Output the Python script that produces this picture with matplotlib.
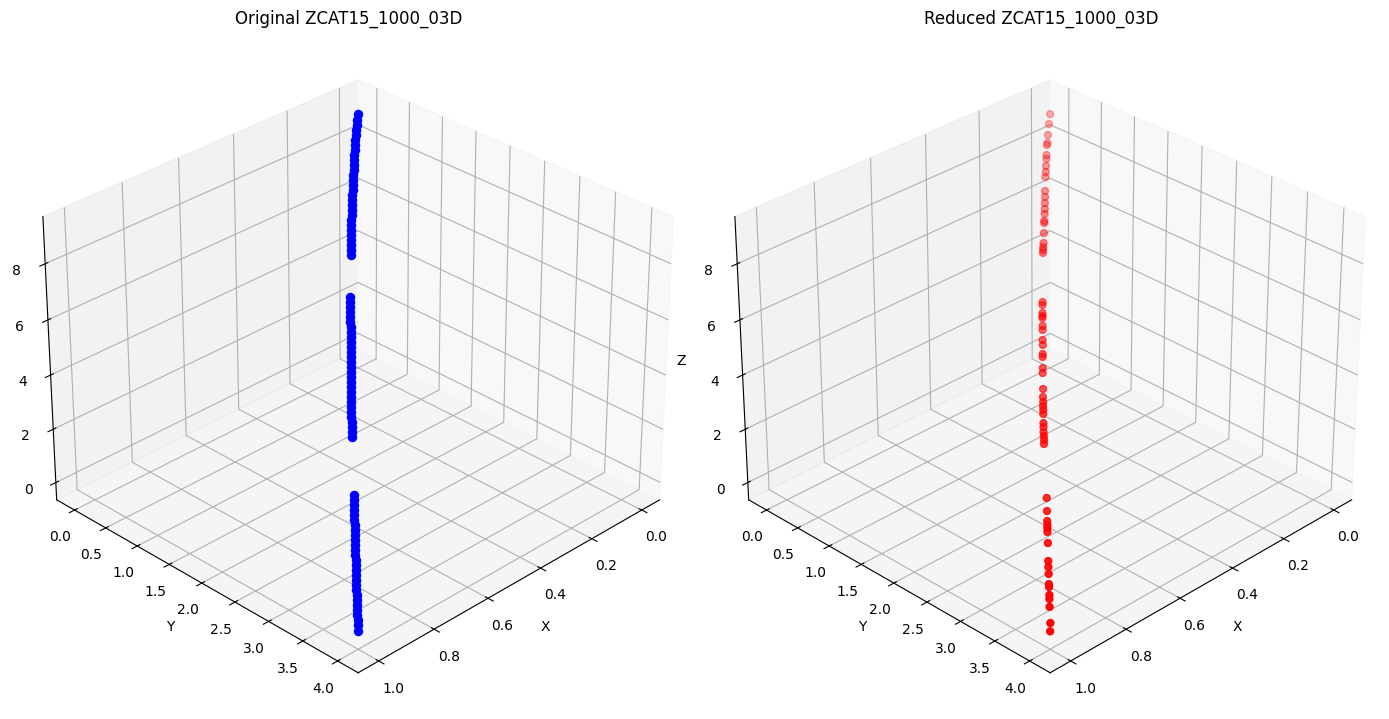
import matplotlib
matplotlib.use("Agg")
import matplotlib.pyplot as plt

original_x = [0.0,.0131,.0241,.035,.0459,.0568,.0676,.0783,.0891,.0999,.1104,.121,.1317,.1422,.1528,.1632,.1737,.1841,.1946,.205,.2153,.2257,.2359,.2462,.2564,.2667,.2769,.2871,.2972,.3818,.3916,.4013,.4111,.4209,.4307,.4403,.4501,.4598,.4696,.4792,.4889,.4986,.5082,.5179,.5274,.5371,.5467,.5562,.5658,.5753,.5849,.5943,.6039,.6133,.6228,.6322,.6417,.6511,.7576,.7667,.7758,.7849,.7939,.803,.812,.821,.83,.839,.848,.8569,.8659,.8748,.8837,.8926,.9014,.9103,.9192,.928,.9369,.9457,.9543,.9631,.9719,.9806,.9892,1.0]
original_y = [0.000,0.037,0.074,0.111,0.148,0.186,0.223,0.261,0.298,0.335,0.374,0.413,0.452,0.490,0.529,0.568,0.606,0.645,0.684,0.723,0.762,0.801,0.841,0.880,0.919,0.958,0.997,1.036,1.076,1.405,1.445,1.486,1.527,1.567,1.608,1.648,1.688,1.728,1.768,1.808,1.847,1.886,1.926,1.965,2.005,2.044,2.083,2.122,2.161,2.200,2.239,2.278,2.316,2.355,2.394,2.432,2.470,2.509,2.966,3.004,3.043,3.081,3.119,3.158,3.196,3.234,3.272,3.311,3.349,3.387,3.425,3.463,3.500,3.538,3.576,3.613,3.651,3.688,3.726,3.763,3.801,3.839,3.876,3.914,3.951,4.0]
original_z = [9.0,8.882,8.783,8.685,8.587,8.489,8.392,8.295,8.198,8.101,8.006,7.911,7.815,7.720,7.625,7.531,7.437,7.343,7.249,7.155,7.062,6.969,6.877,6.784,6.692,6.600,6.508,6.416,6.325,5.564,5.476,5.388,5.300,5.212,5.124,5.037,4.949,4.862,4.774,4.687,4.600,4.513,4.426,4.339,4.253,4.166,4.080,3.994,3.908,3.822,3.736,3.651,3.565,3.480,3.395,3.310,3.225,3.140,2.182,2.100,2.018,1.936,1.855,1.773,1.692,1.611,1.530,1.449,1.368,1.288,1.207,1.127,1.047,0.967,0.887,0.807,0.727,0.648,0.568,0.489,0.411,0.332,0.253,0.175,0.097,0.0]

reduced_x = [0.000,0.022,0.046,0.063,0.068,0.089,0.097,0.112,0.125,0.136,0.165,0.177,0.190,0.202,0.212,0.227,0.231,0.252,0.272,0.281,0.287,0.293,0.391,0.397,0.413,0.419,0.423,0.438,0.446,0.466,0.475,0.493,0.499,0.520,0.530,0.560,0.576,0.585,0.593,0.600,0.608,0.625,0.632,0.642,0.649,0.656,0.664,0.762,0.786,0.804,0.811,0.817,0.824,0.844,0.876,0.887,0.899,0.917,0.922,0.936,0.943,0.957,0.985,1.000]
reduced_y = [0.000,0.069,0.150,0.211,0.222,0.300,0.331,0.385,0.433,0.471,0.581,0.630,0.679,0.726,0.764,0.818,0.834,0.913,0.988,1.018,1.041,1.063,1.450,1.473,1.537,1.560,1.576,1.639,1.671,1.751,1.791,1.861,1.884,1.971,2.009,2.135,2.197,2.237,2.268,2.298,2.330,2.401,2.431,2.471,2.503,2.535,2.565,2.998,3.098,3.173,3.204,3.227,3.257,3.343,3.477,3.523,3.575,3.650,3.672,3.733,3.761,3.820,3.943,4.000]
reduced_z = [9.000,8.805,8.588,8.433,8.391,8.199,8.123,7.989,7.876,7.780,7.516,7.405,7.294,7.182,7.088,6.958,6.920,6.736,6.549,6.475,6.420,6.364,5.479,5.426,5.284,5.231,5.195,5.054,4.983,4.809,4.721,4.563,4.511,4.320,4.233,3.957,3.819,3.735,3.666,3.597,3.530,3.378,3.309,3.226,3.159,3.092,3.024,2.141,1.927,1.764,1.698,1.650,1.585,1.408,1.117,1.021,0.909,0.749,0.701,0.574,0.510,0.383,0.134,0.000]

fig = plt.figure(figsize=(13.89, 7.19), dpi=100)
ax = fig.add_subplot(121, projection='3d')
ax2 = fig.add_subplot(122, projection='3d')
ax.scatter(original_x, original_y, original_z, c='blue', s=34, depthshade=False)
ax2.scatter(reduced_x, reduced_y, reduced_z, c='red', s=25)
for a, t in ((ax, 'Original ZCAT15_1000_03D'), (ax2, 'Reduced ZCAT15_1000_03D')):
    a.set_title(t)
    a.set_xlabel('X')
    a.set_ylabel('Y')
    a.set_zlabel('Z')
    a.view_init(elev=30, azim=45)
fig.tight_layout()

W, H = 1389.0, 719.0
def move(a, dx, dy, sc):
    p = a.get_position()
    cx = (p.x0 + p.x1) / 2 + dx / W
    cy = (p.y0 + p.y1) / 2 - dy / H
    w = p.width * sc
    h = p.height * sc
    a.set_position([cx - w / 2, cy - h / 2, w, h])
move(ax, -2, 11, 1.008)
move(ax2, 3, 11, 1.008)
fig.savefig('out.png', dpi=100)
